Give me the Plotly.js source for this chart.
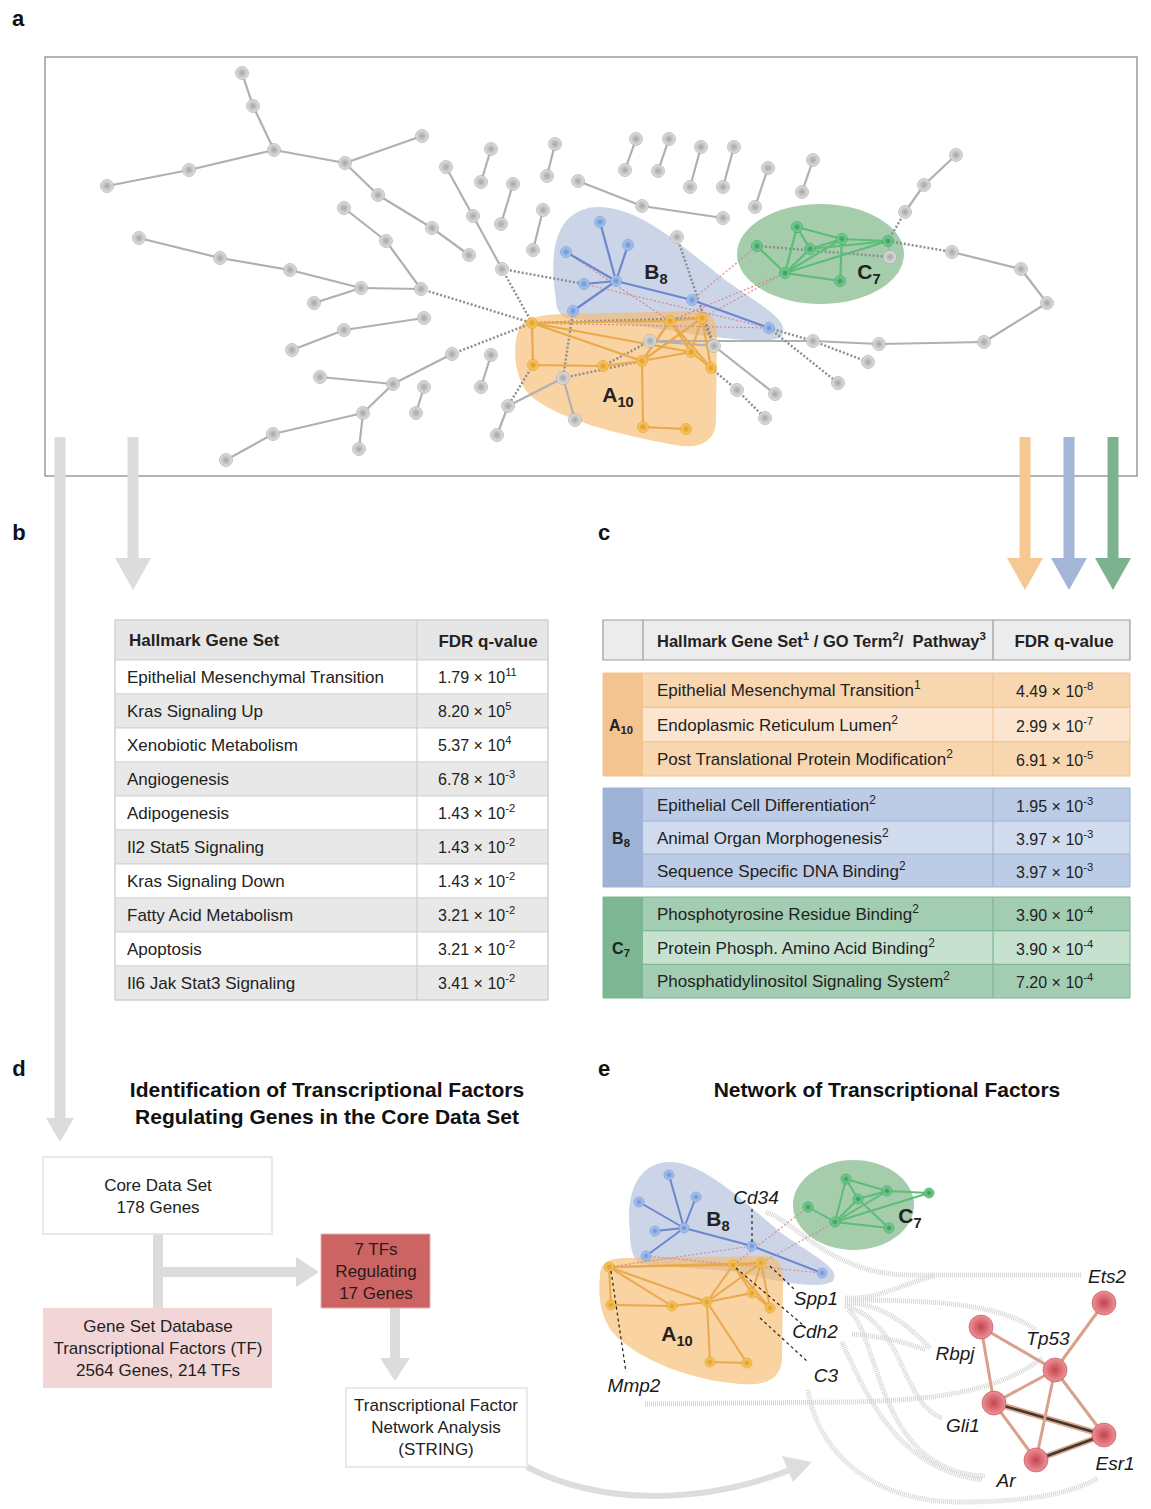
<!DOCTYPE html>
<html><head><meta charset="utf-8">
<script src="https://cdn.plot.ly/plotly-3.0.1.min.js"></script>
<style>html,body{margin:0;padding:0;background:#fff}#chart{width:1151px;height:1509px}</style>
</head><body><div id="chart"></div>
<script>
// ---------------- DATA ----------------
// Panel a: network node positions
const grayNodeX=[242,253,274,189,107,422,345,378,432,469,344,386,421,139,220,290,361,314,424,344,292,452,320,393,363,359,273,226,424,416,491,481,446,473,502,491,481,513,501,555,547,543,533,578,563,575,508,497,642,723,636,625,669,658,701,690,734,723,768,755,813,802,956,924,905,677,890,952,1021,1047,984,879,813,868,838,775,765,737,714,650];
const grayNodeY=[73,106,150,170,186,136,163,195,228,255,208,241,289,238,258,270,288,303,318,330,350,354,377,384,413,449,434,460,387,413,355,387,167,216,269,149,182,184,224,144,176,210,250,181,378,420,406,435,206,218,139,170,139,171,147,187,147,187,168,207,160,192,155,185,212,237,257,252,269,303,342,344,341,362,383,394,418,390,346,341];
const orangeNodeX=[532,533,670,702,603,642,691,711,643,686];
const orangeNodeY=[323,365,321,318,366,361,352,368,427,429];
const blueNodeX=[600,566,628,584,616,573,692,769];
const blueNodeY=[222,252,245,284,281,311,300,328];
const greenNodeX=[797,757,810,842,888,785,840];
const greenNodeY=[227,246,249,239,241,273,281];

const graySolidEdges=[["g0","g1"],["g1","g2"],["g2","g3"],["g3","g4"],["g2","g6"],["g6","g5"],["g6","g7"],["g7","g8"],["g8","g9"],
["g10","g11"],["g11","g12"],["g13","g14"],["g14","g15"],["g15","g16"],["g16","g17"],["g16","g12"],
["g18","g19"],["g19","g20"],["g21","g23"],["g22","g23"],["g23","g24"],["g24","g25"],["g24","g26"],["g26","g27"],
["g28","g29"],["g30","g31"],["g32","g33"],["g33","g34"],["g35","g36"],["g37","g38"],["g39","g40"],["g41","g42"],
["g43","g48"],["g48","g49"],["g50","g51"],["g52","g53"],["g54","g55"],["g56","g57"],["g58","g59"],["g60","g61"],
["g62","g63"],["g63","g64"],["g67","g68"],["g68","g69"],["g69","g70"],["g70","g71"],["g71","g72"],["g72","g79"],["g78","g79"],["g78","g75"],
["g44","g46"],["g44","g45"],["g46","g47"],["c4","g66"]];
const grayDottedEdges=[["g12","a0"],["g21","a0"],["g34","a0"],["g34","b3"],["g44","a5"],["a1","g46"],["b5","g44"],["g65","g78"],
["b7","g72"],["b7","g74"],["g72","g73"],["g77","g76"],["a7","g77"],["g64","c4"],["c1","g66"],["c4","g67"],["a0","a3"],["g79","a4"],["a3","g78"]];
const pinkDottedEdges=[["b3","b7"],["b6","c1"],["a3","c5"],["a0","b7"],["a2","c5"],["b1","a2"]];
const blueEdges=[["b4","b0"],["b4","b1"],["b4","b2"],["b4","b3"],["b4","b5"],["b4","b6"],["b6","b7"]];
const greenEdges=[["c0","c5"],["c0","c3"],["c0","c2"],["c1","c5"],["c2","c5"],["c5","c3"],["c5","c4"],["c5","c6"],["c3","c4"],["c2","c4"],["c3","c6"],["c2","c3"]];
const orangeEdges=[["a0","a1"],["a0","a2"],["a0","a5"],["a0","a6"],["a1","a4"],["a4","a5"],["a5","a2"],["a5","a3"],["a5","a6"],["a5","a8"],["a8","a9"],["a2","a3"],["a2","a6"],["a3","a6"],["a3","a7"],["a6","a7"],["a2","a7"]];

// Panel b table
const hallmarkSets=["Epithelial Mesenchymal Transition","Kras Signaling Up","Xenobiotic Metabolism","Angiogenesis","Adipogenesis","Il2 Stat5 Signaling","Kras Signaling Down","Fatty Acid Metabolism","Apoptosis","Il6 Jak Stat3 Signaling"];
const hallmarkMantissa=["1.79","8.20","5.37","6.78","1.43","1.43","1.43","3.21","3.21","3.41"];
const hallmarkExponent=["11","5","4","-3","-2","-2","-2","-2","-2","-2"];

// Panel c table
const clusterLabels=["A<sub>10</sub>","B<sub>8</sub>","C<sub>7</sub>"];
const termsA=["Epithelial Mesenchymal Transition<sup>1</sup>","Endoplasmic Reticulum Lumen<sup>2</sup>","Post Translational Protein Modification<sup>2</sup>"];
const fdrMantA=["4.49","2.99","6.91"]; const fdrExpA=["-8","-7","-5"];
const termsB=["Epithelial Cell Differentiation<sup>2</sup>","Animal Organ Morphogenesis<sup>2</sup>","Sequence Specific DNA Binding<sup>2</sup>"];
const fdrMantB=["1.95","3.97","3.97"]; const fdrExpB=["-3","-3","-3"];
const termsC=["Phosphotyrosine Residue Binding<sup>2</sup>","Protein Phosph. Amino Acid Binding<sup>2</sup>","Phosphatidylinositol Signaling System<sup>2</sup>"];
const fdrMantC=["3.90","3.90","7.20"]; const fdrExpC=["-4","-4","-4"];

// Panel d flowchart texts
const flowTexts=["Core Data Set<br>178 Genes","Gene Set Database<br>Transcriptional Factors (TF)<br>2564 Genes, 214 TFs","7 TFs<br>Regulating<br>17 Genes","Transcriptional Factor<br>Network Analysis<br>(STRING)"];

// Panel e network
const eBlueX=[669,639,696,655,684,646,752,822];
const eBlueY=[1175,1202,1197,1231,1228,1256,1246,1273];
const eGreenX=[846,887,929,858,835,889,808];
const eGreenY=[1179,1191,1193,1199,1222,1228,1207];
const eOrangeX=[609,733,761,611,672,707,752,770,710,747];
const eOrangeY=[1267,1265,1263,1305,1306,1302,1293,1308,1362,1363];
const tfNames=["Ets2","Rbpj","Tp53","Gli1","Esr1","Ar"];
const tfX=[1104,981,1055,994,1104,1036];
const tfY=[1303,1327,1370,1403,1435,1460];
const tfEdges=[["t1","t2"],["t1","t3"],["t2","t0"],["t2","t3"],["t2","t4"],["t2","t5"],["t3","t5"]];
const tfStrongEdges=[["t3","t4"],["t5","t4"]];
const eBlueEdges=[["eb4","eb0"],["eb4","eb1"],["eb4","eb2"],["eb4","eb3"],["eb4","eb5"],["eb4","eb6"],["eb6","eb7"]];
const eGreenEdges=[["ec4","ec0"],["ec4","ec3"],["ec4","ec1"],["ec4","ec5"],["ec0","ec1"],["ec1","ec2"],["ec3","ec1"],["ec4","ec2"],["ec6","ec4"],["ec3","ec5"],["ec0","ec3"]];
const eOrangeEdges=[["ea0","ea3"],["ea0","ea4"],["ea0","ea5"],["ea0","ea2"],["ea0","ea1"],["ea3","ea4"],["ea4","ea5"],["ea5","ea1"],["ea5","ea2"],["ea5","ea6"],["ea5","ea8"],["ea5","ea9"],["ea8","ea9"],["ea1","ea2"],["ea1","ea6"],["ea1","ea7"],["ea2","ea6"],["ea2","ea7"],["ea6","ea7"]];
const ePinkEdges=[["eb5","eb7"],["ec4","ea2"],["ec6","ea1"],["ea0","eb6"]];

// ---------------- BUILD ----------------
const groups={g:[grayNodeX,grayNodeY],a:[orangeNodeX,orangeNodeY],b:[blueNodeX,blueNodeY],c:[greenNodeX,greenNodeY],
  eb:[eBlueX,eBlueY],ec:[eGreenX,eGreenY],ea:[eOrangeX,eOrangeY],t:[tfX,tfY]};
function pos(id){const m=id.match(/^([a-z]+)(\d+)$/);const g=groups[m[1]];const i=+m[2];return [g[0][i],g[1][i]];}
function edgeTrace(list,color,width,dash,opacity){
  const x=[],y=[];
  list.forEach(e=>{const p=pos(e[0]),q=pos(e[1]);x.push(p[0],q[0],null);y.push(p[1],q[1],null);});
  return {type:'scatter',mode:'lines',x,y,line:{color,width,dash:dash||'solid'},opacity:opacity==null?1:opacity,hoverinfo:'skip',showlegend:false};
}
function nodeTrace(xs,ys,center,edge,size){
  return {type:'scatter',mode:'markers',x:xs,y:ys,marker:{size,color:center,gradient:{type:'radial',color:edge},line:{color:edge,width:0.6}},hoverinfo:'skip',showlegend:false};
}
const FONT="Liberation Sans, Arial, sans-serif";
const shapes=[];
const txt={x:[],y:[],t:[],s:[],c:[],p:[]};
function rect(x0,y0,x1,y1,fill,line,lw,layer){shapes.push({type:'rect',xref:'x',yref:'y',x0,y0,x1,y1,fillcolor:fill,line:{color:line||'rgba(0,0,0,0)',width:lw==null?1:lw},layer:layer||'below'});}
function line(x0,y0,x1,y1,color,w,dash,layer){shapes.push({type:'line',xref:'x',yref:'y',x0,y0,x1,y1,line:{color,width:w,dash:dash||'solid'},layer:layer||'below'});}
function path(p,fill,color,w,dash,layer){shapes.push({type:'path',xref:'x',yref:'y',path:p,fillcolor:fill||'rgba(0,0,0,0)',line:{color:color||'rgba(0,0,0,0)',width:w||0,dash:dash||'solid'},layer:layer||'below'});}
function text(x,y,t,size,opts){opts=opts||{};txt.x.push(x);txt.y.push(y+2);txt.t.push(t);txt.s.push(size);txt.c.push(opts.color||'#222');txt.p.push(opts.xa==='center'?'middle center':'middle right');}
function vArrow(x,y0,y1,color,w,hw,hl){rect(x-w/2,y0,x+w/2,y1,color,null,0,'above');path(`M ${x-hw/2} ${y1} L ${x+hw/2} ${y1} L ${x} ${y1+hl} Z`,color,null,0,'solid','above');}

// ---- Panel a ----
rect(45,57,1137,476,'rgba(0,0,0,0)','#9a9a9a',1.5);
path("M 556 300 C 548 250, 556 210, 596 207 C 640 206, 680 245, 728 282 C 765 308, 792 322, 781 337 C 766 346, 705 336, 640 326 L 566 318 C 559 314, 556 308, 556 300 Z",'rgba(170,185,215,0.6)');
path("M 518 332 C 520 318, 540 315, 562 314 L 700 311 C 712 311, 717 322, 717 336 L 716 420 C 716 441, 700 450, 675 445 C 620 435, 560 420, 532 397 C 515 382, 512 350, 518 332 Z",'rgba(246,184,104,0.62)');
shapes.push({type:'circle',xref:'x',yref:'y',x0:737,y0:204,x1:904,y1:304,fillcolor:'rgba(110,175,120,0.62)',line:{width:0},layer:'below'});

const traces=[];
traces.push(edgeTrace(graySolidEdges,'#b0b0b0',2.2));
traces.push(edgeTrace(grayDottedEdges,'#8c8c8c',2.4,'2px,2px'));
traces.push(edgeTrace(pinkDottedEdges,'#d08a92',1.2,'2px,2px'));
traces.push(edgeTrace(orangeEdges,'#eaa94a',2.2));
traces.push(edgeTrace(blueEdges,'#6d86cf',2.2));
traces.push(edgeTrace(greenEdges,'#5cbd78',2.2));
traces.push(nodeTrace(grayNodeX,grayNodeY,'#e2e2e2','#a4a4a4',13));
traces.push(nodeTrace(orangeNodeX,orangeNodeY,'#f8cc6e','#e09a22',11));
traces.push(nodeTrace(blueNodeX,blueNodeY,'#b4cdf2','#6690d4',11));
traces.push(nodeTrace(greenNodeX,greenNodeY,'#86d6a0','#2f9a52',11));
text(656,272,'<b>B<sub>8</sub></b>',21,{xa:'center'});
text(869,272,'<b>C<sub>7</sub></b>',21,{xa:'center'});
text(618,395,'<b>A<sub>10</sub></b>',21,{xa:'center'});

// arrows
vArrow(60,437,1118,'#dcdcdc',11,28,24);
vArrow(133,437,558,'#dcdcdc',11,36,32);
vArrow(1025,437,558,'#f5c991',11,36,32);
vArrow(1069,437,558,'#a3b6d8',11,36,32);
vArrow(1113,437,558,'#7db28f',11,36,32);

// panel letters
[['a',18,18],['b',19,532],['c',604,532],['d',19,1068],['e',604,1068]].forEach(l=>text(l[1],l[2],'<b>'+l[0]+'</b>',22,{xa:'center',color:'#111'}));

// ---- Panel b table ----
const bx0=115,bx1=548,bcol=417,bhy0=620,bhy1=660,brh=34;
rect(bx0,bhy0,bx1,bhy1,'#e6e6e6','#d0d0d0',1);
text(129,640,'<b>Hallmark Gene Set</b>',17);
text(488,641,'<b>FDR q-value</b>',17,{xa:'center'});
hallmarkSets.forEach((s,i)=>{
  const y0=bhy1+i*brh,y1=y0+brh;
  rect(bx0,y0,bx1,y1,i%2===0?'#ffffff':'#e8e8e8','#d4d4d4',1);
  text(127,(y0+y1)/2,s,17);
  text(438,(y0+y1)/2,hallmarkMantissa[i]+' × 10<sup>'+hallmarkExponent[i]+'</sup>',16);
});
line(bcol,bhy0,bcol,bhy1+10*brh,'#cfcfcf',1.2);
rect(bx0,bhy0,bx1,bhy1+10*brh,'rgba(0,0,0,0)','#cfcfcf',1);

// ---- Panel c table ----
const cx0=603,cxl=643,cxc=993,cx1=1130;
rect(cx0,620,cx1,660,'#ececec','#9a9a9a',1.2);
line(cxl,620,cxl,660,'#9a9a9a',1.2);
line(cxc,620,cxc,660,'#9a9a9a',1.2);
text(657,641,'<b>Hallmark Gene Set<sup>1</sup> / GO Term<sup>2</sup>/  Pathway<sup>3</sup></b>',16.5);
text(1064,641,'<b>FDR q-value</b>',17,{xa:'center'});
const cGroups=[
  {y0:673,y1:776,dark:'#f3c48f',r1:'#f8d6b0',r2:'#fbe5cf',terms:termsA,m:fdrMantA,e:fdrExpA},
  {y0:788,y1:887,dark:'#9db2d5',r1:'#bccbe6',r2:'#d1dbee',terms:termsB,m:fdrMantB,e:fdrExpB},
  {y0:897,y1:998,dark:'#7db692',r1:'#a2cdb2',r2:'#c7e1d0',terms:termsC,m:fdrMantC,e:fdrExpC}];
cGroups.forEach((g,gi)=>{
  rect(cx0,g.y0,cxl,g.y1,g.dark,null,0);
  const h=(g.y1-g.y0)/3;
  for(let r=0;r<3;r++){
    const y0=g.y0+r*h,y1=y0+h;
    rect(cxl,y0,cx1,y1,r===1?g.r2:g.r1,null,0);
    if(r>0) line(cxl,y0,cx1,y0,g.dark,1.2);
    text(657,(y0+y1)/2,g.terms[r],17);
    text(1016,(y0+y1)/2+1,g.m[r]+' × 10<sup>'+g.e[r]+'</sup>',16);
  }
  line(cxc,g.y0,cxc,g.y1,g.dark,1.2);
  rect(cx0,g.y0,cx1,g.y1,'rgba(0,0,0,0)',g.dark,1);
  text(621,(g.y0+g.y1)/2,'<b>'+clusterLabels[gi]+'</b>',16,{xa:'center'});
});

// ---- Panel d ----
text(327,1103,'<b>Identification of Transcriptional Factors<br>Regulating Genes in the Core Data Set</b>',21,{xa:'center',color:'#111'});
line(158,1234,158,1308,'#dcdcdc',10);
line(158,1272,296,1272,'#dcdcdc',10);
path("M 296 1257 L 296 1287 L 319 1272 Z",'#dcdcdc');
line(395,1308,395,1358,'#dcdcdc',10);
path("M 380 1358 L 410 1358 L 395 1381 Z",'#dcdcdc');
path("M 527 1467 C 600 1505, 700 1505, 790 1470",null,'#dddddd',6);
path("M 782 1456 L 793 1482 L 812 1462 Z",'#dddddd');
rect(43,1157,272,1234,'#ffffff','#e2e2e2',1.5);
rect(43,1308,272,1388,'#f2d6d7',null,0);
rect(321,1234,430,1308,'#cd6464','#e0b0b0',1);
rect(346,1388,527,1467,'#ffffff','#e2e2e2',1.5);
text(158,1196,flowTexts[0],17,{xa:'center'});
text(158,1348,flowTexts[1],17,{xa:'center'});
text(376,1271,flowTexts[2],17,{xa:'center',color:'#2a1a1a'});
text(436,1427,flowTexts[3],17,{xa:'center'});

// ---- Panel e ----
text(887,1090,'<b>Network of Transcriptional Factors</b>',21,{xa:'center',color:'#111'});
path("M 630 1232 C 625 1190, 640 1162, 670 1162 C 702 1162, 740 1198, 780 1232 C 810 1254, 842 1268, 833 1281 C 820 1290, 780 1283, 740 1272 L 640 1264 C 632 1258, 630 1246, 630 1232 Z",'rgba(170,185,215,0.6)');
shapes.push({type:'circle',xref:'x',yref:'y',x0:793,y0:1160,x1:914,y1:1250,fillcolor:'rgba(110,175,120,0.62)',line:{width:0},layer:'below'});
path("M 600 1276 C 600 1262, 610 1258, 626 1258 L 765 1256 C 778 1256, 783 1265, 783 1280 L 782 1360 C 780 1380, 765 1386, 740 1384 C 690 1380, 640 1360, 615 1335 C 600 1318, 598 1296, 600 1276 Z",'rgba(246,184,104,0.62)');
// gray connection curves from genes to TFs
const cur='#d6d6d6';
[
 "M 766 1212 C 800 1225, 830 1272, 905 1275 L 1082 1275",
 "M 845 1298 C 880 1300, 905 1282, 935 1276",
 "M 845 1300 C 930 1300, 1000 1303, 1036 1330",
 "M 845 1303 C 880 1303, 905 1322, 930 1348",
 "M 852 1334 C 880 1336, 905 1342, 926 1350",
 "M 845 1306 C 905 1322, 900 1402, 942 1418",
 "M 848 1310 C 880 1332, 875 1472, 985 1476",
 "M 842 1342 C 868 1400, 900 1470, 983 1480",
 "M 645 1404 L 850 1402 C 955 1400, 1005 1386, 1042 1358",
 "M 808 1390 C 815 1440, 860 1502, 960 1502 C 1040 1502, 1078 1490, 1098 1478"
].forEach(p=>path(p,null,cur,5,'1px,1px'));
// leader lines
line(752,1209,752,1243,'#222',1.2,'dot','above');
line(770,1266,795,1290,'#222',1.2,'dot','above');
line(736,1268,803,1325,'#222',1.2,'dot','above');
line(760,1318,808,1362,'#222',1.2,'dot','above');
line(611,1271,626,1372,'#222',1.2,'dot','above');

traces.push(edgeTrace(ePinkEdges,'#d08a92',1.1,'2px,2px'));
traces.push(edgeTrace(eOrangeEdges,'#eaa94a',2));
traces.push(edgeTrace(eBlueEdges,'#6d86cf',2));
traces.push(edgeTrace(eGreenEdges,'#5cbd78',2));
traces.push(edgeTrace(tfStrongEdges,'#e3a88a',6));
traces.push(edgeTrace(tfStrongEdges,'#3a3a3a',2.5));
traces.push(edgeTrace(tfEdges,'#d9a08a',3));
traces.push(nodeTrace(eOrangeX,eOrangeY,'#f8cc6e','#e09a22',10));
traces.push(nodeTrace(eBlueX,eBlueY,'#b4cdf2','#6690d4',10));
traces.push(nodeTrace(eGreenX,eGreenY,'#86d6a0','#2f9a52',10));
traces.push(nodeTrace(tfX,tfY,'#ef9198','#c24550',24));
text(718,1219,'<b>B<sub>8</sub></b>',21,{xa:'center'});
text(910,1216,'<b>C<sub>7</sub></b>',21,{xa:'center'});
text(677,1334,'<b>A<sub>10</sub></b>',21,{xa:'center'});
const it=(x,y,t)=>text(x,y,'<i>'+t+'</i>',19,{xa:'center',color:'#1a1a1a'});
it(756,1197,'Cd34');it(816,1298,'Spp1');it(815,1331,'Cdh2');it(826,1375,'C3');it(634,1385,'Mmp2');
it(1107,1276,tfNames[0]);it(955,1353,tfNames[1]);it(1048,1338,tfNames[2]);it(963,1425,tfNames[3]);it(1115,1463,tfNames[4]);it(1006,1480,tfNames[5]);

// all texts as one text trace drawn on top
traces.push({type:'scatter',mode:'text',x:txt.x,y:txt.y,text:txt.t,textposition:txt.p,
  textfont:{family:FONT,size:txt.s,color:txt.c},hoverinfo:'skip',showlegend:false,cliponaxis:false});

const layout={width:1151,height:1509,margin:{l:0,r:0,t:0,b:0},paper_bgcolor:'#ffffff',plot_bgcolor:'#ffffff',
  xaxis:{range:[0,1151],visible:false,fixedrange:true},
  yaxis:{range:[1509,0],visible:false,fixedrange:true},
  shapes,showlegend:false,font:{family:FONT},hovermode:false};
Plotly.newPlot('chart',traces,layout,{displayModeBar:false});
</script></body></html>
